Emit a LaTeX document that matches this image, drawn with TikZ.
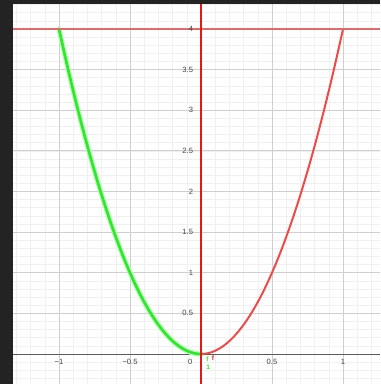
\documentclass[tikz,border=0pt]{standalone}
\usepackage{fontspec}
\setmainfont{Liberation Sans}
\usetikzlibrary{calc}
\definecolor{ggBack}{HTML}{232323}
\definecolor{ggMinor}{HTML}{F0F0F0}
\definecolor{ggMajor}{HTML}{CFCFCF}
\definecolor{ggAxis}{HTML}{5A5A5A}
\definecolor{ggText}{HTML}{444444}
\definecolor{ggGreen}{HTML}{2EE82A}
\definecolor{ggRed}{HTML}{EE4A4A}
\definecolor{ggLine}{HTML}{E01818}
\definecolor{ggLevel}{HTML}{E06A6A}
\tikzset{
  gridminor/.style={ggMinor, line width=0.6pt},
  gridmajor/.style={ggMajor, line width=0.8pt},
  axisline/.style={ggAxis, line width=1pt},
  ticklabel/.style={font=\fontsize{7.6}{8}\selectfont, text=ggText, inner sep=0pt},
  leftcurve/.style={ggGreen, line width=2.6pt, line cap=round},
  leftglow/.style={ggGreen!35, line width=5pt, line cap=round},
  rightcurve/.style={ggRed, line width=2pt, line cap=round},
  levelline/.style={ggLevel, line width=1.8pt},
  yline/.style={ggLine, line width=2.4pt},
  fname/.style={font=\fontsize{6.5}{6.5}\selectfont\bfseries, inner sep=0pt}
}
\begin{document}
\begin{tikzpicture}[x=142pt, y=81.25pt]
  % frame and dark border
  \fill[ggBack] (-1.4155,-0.3692) rectangle (1.2606,4.3569);
  \fill[white] (-1.324,-0.3692) rectangle (1.2606,4.3077);
  \useasboundingbox (-1.4155,-0.3692) rectangle (1.2606,4.3569);
  % grid
  \foreach \i in {-13,...,12}
    \draw[gridminor] (\i/10,-0.3692) -- (\i/10,4.3077);
  \foreach \j in {-3,...,43}
    \draw[gridminor] (-1.324,\j/10) -- (1.2606,\j/10);
  \foreach \i in {-1,-0.5,0.5,1}
    \draw[gridmajor] (\i,-0.3692) -- (\i,4.3077);
  \foreach \j in {0.5,1,...,4}
    \draw[gridmajor] (-1.324,\j) -- (1.2606,\j);
  % axes
  \draw[axisline] (-1.324,0) -- (1.2606,0);
  % curves
  \draw[leftglow] plot[domain=-1:0, samples=60, smooth] (\x,{4*\x*\x});
  \draw[leftcurve] plot[domain=-1:0, samples=60, smooth] (\x,{4*\x*\x});
  \draw[rightcurve] plot[domain=0:1, samples=60, smooth] (\x,{4*\x*\x});
  \draw[levelline] (-1.324,4) -- (1.2606,4);
  \draw[yline] (0,-0.3692) -- (0,4.3077);
  % tick labels
  \foreach \v/\t in {-1/−1,-0.5/−0.5,0.5/0.5,1/1}
    \node[ticklabel, anchor=north] (xl\t) at (\v,-0.065) {\t};
  \node[ticklabel, anchor=north east] (xl0) at (-0.06,-0.065) {0};
  \foreach \v in {0.5,1,1.5,2,2.5,3,3.5,4}
    \node[ticklabel, anchor=east] (yl\v) at (-0.055,\v) {\v};
  % function names
  \node[fname, text=ggGreen] (nf1) at (0.045,-0.06) {f};
  \node[fname, text=ggGreen] (nf1sub) at (0.05,-0.16) {1};
  \node[fname, text=ggLine] (nf) at (0.085,-0.045) {f};
\end{tikzpicture}
\end{document}
